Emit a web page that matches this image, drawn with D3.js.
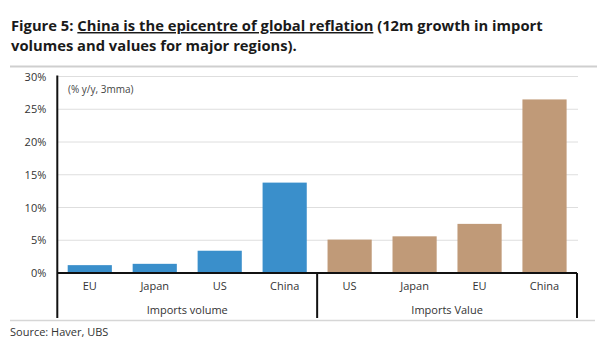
<!DOCTYPE html>
<html><head><meta charset="utf-8">
<script src="https://cdn.jsdelivr.net/npm/d3@7"></script>
<style>
html,body{margin:0;padding:0;background:#fff;}
svg{display:block;}
</style>
</head><body>
<svg id="chart" width="600" height="357"></svg>
<script>
// ---- data ----
const groups = ["Imports volume", "Imports Value"];
const volumeCategories = ["EU", "Japan", "US", "China"];
const volumeValues = [1.2, 1.4, 3.4, 13.8];
const valueCategories = ["US", "Japan", "EU", "China"];
const valueValues = [5.1, 5.6, 7.5, 26.5];
const yTicks = [0, 5, 10, 15, 20, 25, 30];
const unitNote = "(% y/y, 3mma)";
const sourceText = "Source:  Haver, UBS";

const colors = {"Imports volume": "#3a8fcb", "Imports Value": "#c09a78"};

const rows = [
  ...volumeCategories.map((c, i) => ({group: groups[0], cat: c, v: volumeValues[i]})),
  ...valueCategories.map((c, i) => ({group: groups[1], cat: c, v: valueValues[i]}))
].map((d, i) => ({...d, key: i}));

const svg = d3.select("#chart");
const font = "'Open Sans', 'DejaVu Sans', sans-serif";

// ---- title ----
const title = svg.append("text").attr("x", 11).attr("y", 31)
  .attr("font-family", font).attr("font-weight", "bold").attr("font-size", 15).attr("fill", "#1a1a1a");
title.append("tspan").text("Figure 5: ");
title.append("tspan").attr("text-decoration", "underline").text("China is the epicentre of global reflation");
title.append("tspan").text(" (12m growth in import");
// fit line width to reference
const targetW = 532;
const w0 = title.node().getComputedTextLength();
const fs = 15 * targetW / w0;
title.attr("font-size", fs);
svg.append("text").attr("x", 11).attr("y", 50.5)
  .attr("font-family", font).attr("font-weight", "bold").attr("font-size", fs).attr("fill", "#1a1a1a")
  .text("volumes and values for major regions).");

// separators
svg.append("line").attr("x1", 10).attr("x2", 597).attr("y1", 66.5).attr("y2", 66.5)
  .attr("stroke", "#cfcfcf").attr("stroke-width", 2);
svg.append("line").attr("x1", 10).attr("x2", 595).attr("y1", 320.5).attr("y2", 320.5)
  .attr("stroke", "#d6d6d6").attr("stroke-width", 1.5);

// ---- scales ----
const x0 = 57.3, x1 = 577;
const y = d3.scaleLinear().domain([0, 30]).range([273, 76.5]);
const x = d3.scaleBand().domain(rows.map(d => d.key)).range([x0, x1])
  .paddingInner(0.32).paddingOuter(0.16);

// gridlines
svg.append("g").selectAll("line").data(yTicks.filter(t => t > 0)).join("line")
  .attr("x1", x0).attr("x2", 578).attr("y1", d => y(d)).attr("y2", d => y(d))
  .attr("stroke", "#dedede").attr("stroke-width", 1);

// y axis labels
const yAxis = svg.append("g").attr("transform", `translate(${x0},0)`)
  .call(d3.axisLeft(y).tickValues(yTicks).tickFormat(d => d + "%").tickSize(0).tickPadding(11));
yAxis.select(".domain").remove();
yAxis.selectAll("text").attr("font-family", font).attr("font-size", 11).attr("fill", "#333");

// unit note
svg.append("text").attr("x", 68).attr("y", 93).attr("font-family", font)
  .attr("font-size", 10).attr("fill", "#444").text(unitNote);

// bars
svg.append("g").selectAll("rect").data(rows).join("rect")
  .attr("x", d => x(d.key)).attr("width", x.bandwidth())
  .attr("y", d => y(d.v)).attr("height", d => y(0) - y(d.v))
  .attr("fill", d => colors[d.group]);

// category labels
const xAxis = svg.append("g").attr("transform", `translate(0,${y(0)})`)
  .call(d3.axisBottom(x).tickFormat(k => rows[k].cat).tickSize(0).tickPadding(9));
xAxis.select(".domain").remove();
xAxis.selectAll("text").attr("font-family", font).attr("font-size", 11).attr("fill", "#333");

// frame lines
const bottomY = 318;
svg.append("line").attr("x1", x0).attr("x2", x1).attr("y1", y(0)).attr("y2", y(0))
  .attr("stroke", "#111").attr("stroke-width", 2);
const sepXs = [x0, (x(3) + x.bandwidth() + x(4)) / 2, x1];
svg.append("g").selectAll("line").data(sepXs).join("line")
  .attr("x1", d => d).attr("x2", d => d)
  .attr("y1", (d, i) => i === 0 ? 75.5 : y(0)).attr("y2", bottomY)
  .attr("stroke", "#111").attr("stroke-width", 2);

// group labels
svg.append("g").selectAll("text").data(groups).join("text")
  .attr("x", (g, i) => (sepXs[i] + sepXs[i + 1]) / 2).attr("y", 314)
  .attr("text-anchor", "middle").attr("font-family", font).attr("font-size", 11).attr("fill", "#333")
  .text(g => g);

// source
svg.append("text").attr("x", 10).attr("y", 336).attr("font-family", font)
  .attr("font-size", 11).attr("fill", "#333").text(sourceText);
</script>
</body></html>
